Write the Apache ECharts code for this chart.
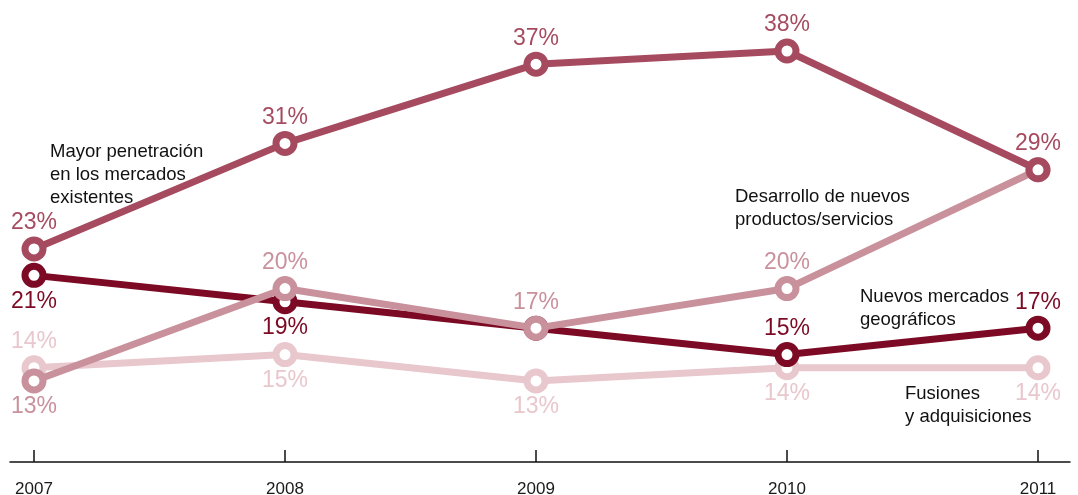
<!DOCTYPE html>
<html>
<head>
<meta charset="utf-8">
<script src="https://cdn.jsdelivr.net/npm/echarts@6/dist/echarts.min.js"></script>
<style>
  html, body { margin: 0; padding: 0; background: #fff; }
  #chart { width: 1078px; height: 495px; }
</style>
</head>
<body>
<div id="chart"></div>
<script>
// years on the x axis
const years = [2007, 2008, 2009, 2010, 2011]

// share of companies (%) per strategy
const mayorPenetracion = [23, 31, 37, 38, 29]
const nuevosMercados = [21, 19, 17, 15, 17]
const desarrolloProductos = [13, 20, 17, 20, 29]
const fusiones = [14, 15, 13, 14, 14]

const font = 'Arial, "Liberation Sans", Helvetica, sans-serif'

function makeSeries(name, values, color, z, labelPos) {
  return {
    name: name,
    type: 'line',
    z: z,
    data: values.map((v, i) => {
      const pos = labelPos[i]
      return {
        value: [years[i], v],
        label: pos ? { show: true, position: pos } : { show: false }
      }
    }),
    symbol: 'circle',
    symbolSize: 18,
    lineStyle: { color: color, width: 7 },
    itemStyle: { color: '#fff', borderColor: color, borderWidth: 7 },
    label: {
      color: color,
      fontSize: 23,
      fontFamily: font,
      distance: 2,
      formatter: p => p.value[1] + '%'
    },
    emphasis: { disabled: true },
    animation: false
  }
}

const chart = echarts.init(document.getElementById('chart'))

chart.setOption({
  backgroundColor: '#fff',
  grid: { left: 10, right: 8, top: 24.6, bottom: 33, containLabel: false, outerBoundsMode: 'none' },
  xAxis: {
    type: 'value',
    min: 2006.9044,
    max: 2011.1275,
    splitLine: { show: false },
    axisLine: { show: true, onZero: false, lineStyle: { color: '#111', width: 1.5 } },
    axisTick: {
      show: true,
      inside: true,
      length: 12,
      customValues: years,
      lineStyle: { color: '#111', width: 1.5 }
    },
    axisLabel: {
      customValues: years,
      formatter: v => String(v),
      color: '#1a1a1a',
      fontSize: 17,
      fontFamily: font,
      margin: 19
    }
  },
  yAxis: {
    type: 'value',
    show: false,
    min: 6.86,
    max: 40
  },
  series: [
    makeSeries('Fusiones y adquisiciones', fusiones, '#e8c7cd', 1,
      ['top', 'bottom', 'bottom', 'bottom', 'bottom']),
    makeSeries('Nuevos mercados geográficos', nuevosMercados, '#7c0a24', 2,
      ['bottom', 'bottom', null, 'top', 'top']),
    makeSeries('Desarrollo de nuevos productos/servicios', desarrolloProductos, '#c9919c', 3,
      ['bottom', 'top', 'top', 'top', null]),
    makeSeries('Mayor penetración en los mercados existentes', mayorPenetracion, '#a64b5f', 4,
      ['top', 'top', 'top', 'top', 'top'])
  ],
  graphic: [
    { type: 'text', left: 50, top: 140, style: { text: 'Mayor penetración\nen los mercados\nexistentes', font: '18.5px ' + font, fill: '#111', lineHeight: 23 } },
    { type: 'text', left: 735, top: 185, style: { text: 'Desarrollo de nuevos\nproductos/servicios', font: '18.5px ' + font, fill: '#111', lineHeight: 23 } },
    { type: 'text', left: 860, top: 285, style: { text: 'Nuevos mercados\ngeográficos', font: '18.5px ' + font, fill: '#111', lineHeight: 23 } },
    { type: 'text', left: 905, top: 382, style: { text: 'Fusiones\ny adquisiciones', font: '18.5px ' + font, fill: '#111', lineHeight: 23 } }
  ]
})
</script>
</body>
</html>
